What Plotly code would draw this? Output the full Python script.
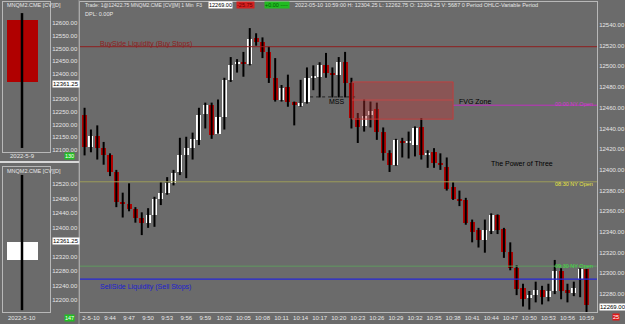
import plotly.graph_objects as go

# ---------------- data ----------------
minutes = ["9:40","9:41","9:42","9:43","9:44","9:45","9:46","9:47","9:48","9:49",
           "9:50","9:51","9:52","9:53","9:54","9:55","9:56","9:57","9:58","9:59",
           "10:00","10:01","10:02","10:03","10:04","10:05","10:06","10:07","10:08","10:09",
           "10:10","10:11","10:12","10:13","10:14","10:15","10:16","10:17","10:18","10:19",
           "10:20","10:21","10:22","10:23","10:24","10:25","10:26","10:27","10:28","10:29",
           "10:30","10:31","10:32","10:33","10:34","10:35","10:36","10:37","10:38","10:39",
           "10:40","10:41","10:42","10:43","10:44","10:45","10:46","10:47","10:48","10:49",
           "10:50","10:51","10:52","10:53","10:54","10:55","10:56","10:57","10:58","10:59"]

opens = [12453,12422,12433,12421,12414,12398,12369,12367,12362,12354,
         12349,12356,12372,12378,12387,12398,12414,12421,12429,12454,
         12463,12435,12451,12487,12502,12504,12502,12527,12524,12514,
         12489,12468,12480,12466,12462,12466,12489,12490,12501,12494,
         12492,12504,12484,12450,12442,12453,12459,12437,12416,12405,
         12428,12426,12424,12441,12414,12417,12407,12403,12383,12372,
         12371,12350,12342,12332,12341,12356,12343,12321,12305,12286,
         12276,12279,12284,12277,12283,12302,12284,12281,12295,12304.25]
highs = [12460,12439,12443,12427,12416,12400,12378,12387,12364,12359,
         12363,12374,12388,12393,12400,12431,12432,12436,12460,12465,
         12465,12468,12489,12509,12507,12514,12537,12532,12528,12519,
         12508,12482,12492,12466,12487,12499,12501,12504,12513,12499,
         12509,12514,12489,12455,12468,12466,12465,12441,12419,12430,
         12431,12437,12442,12450,12419,12421,12416,12412,12388,12380,
         12373,12352,12344,12352,12358,12357,12344,12330,12308,12290,
         12283,12292,12288,12290,12313,12305,12290,12292,12305,12304.25]
lows = [12414,12417,12410,12405,12394,12364,12354,12360,12349,12337,
        12344,12345,12366,12376,12385,12395,12392,12410,12424,12440,
        12430,12435,12439,12485,12494,12490,12501,12520,12508,12484,
        12466,12466,12461,12443,12461,12464,12477,12470,12489,12470,
        12470,12470,12440,12426,12437,12441,12429,12409,12398,12404,
        12412,12411,12413,12410,12402,12402,12400,12380,12371,12365,
        12347,12330,12325,12320,12338,12338,12315,12303,12279,12268,
        12265,12272,12270,12273,12280,12275,12272,12278,12277,12262.75]
closes = [12422,12433,12421,12414,12398,12369,12367,12362,12354,12349,
          12356,12372,12378,12387,12397,12414,12421,12430,12453,12463,
          12434,12451,12487,12501,12504,12502,12526,12524,12514,12489,
          12468,12479,12466,12463,12465,12489,12490,12501,12494,12492,
          12504,12484,12450,12441,12452,12457,12437,12416,12405,12429,
          12426,12427,12440,12414,12416,12407,12405,12382,12372,12370,
          12349,12340,12332,12342,12356,12342,12321,12305,12285,12275,
          12279,12284,12277,12283,12302,12283,12281,12286,12304,12269]

tick_labels = ["2-5-10","9:44","9:47","9:50","9:53","9:56","9:59","10:02","10:05","10:08",
               "10:11","10:14","10:17","10:20","10:23","10:26","10:29","10:32","10:35","10:38",
               "10:41","10:44","10:47","10:50","10:53","10:56","10:59"]
tick_minutes = ["9:41","9:44","9:47","9:50","9:53","9:56","9:59","10:02","10:05","10:08",
                "10:11","10:14","10:17","10:20","10:23","10:26","10:29","10:32","10:35","10:38",
                "10:41","10:44","10:47","10:50","10:53","10:56","10:59"]
price_ticks = [12540,12520,12500,12480,12460,12440,12420,12400,12380,12360,12340,12320,12300,12280]

# daily panels
day1 = {"label": "2022-5-9", "o": 12612, "h": 12639, "l": 12108, "c": 12368}
day2 = {"label": "2022-5-10", "o": 12310, "h": 12545, "l": 12172, "c": 12361}
day1_ticks = [12600,12550,12500,12450,12400,12300,12250,12200,12150,12100]
day2_ticks = [12520,12480,12440,12400,12320,12280,12240,12200]

# levels
buyside = 12519
midnight_open = 12462.5
ny0830 = 12388.5
ny0930 = 12307
sellside = 12294.5
mss_level = 12470.5
fvg_top, fvg_mid, fvg_bot = 12485, 12467.5, 12449

# ---------------- build ----------------
W, H = 625, 324
BG = "#6b6b6b"
RED = "#b00000"
FRAME = "#b8b8b8"
TXT = "#e6e6e6"
FONT = "Liberation Sans"

def px(x): return x / W
def py(y): return 1 - y / H

idx = {m: i for i, m in enumerate(minutes)}
xs = [idx[m] for m in minutes]
tickvals = [idx[m] for m in tick_minutes]

fig = go.Figure()

# wicks
wx, wy = [], []
for i, hi, lo in zip(xs, highs, lows):
    wx += [i, i, None]
    wy += [lo, hi, None]
fig.add_trace(go.Scatter(x=wx, y=wy, mode="lines", line=dict(color="black", width=2),
                         hoverinfo="skip", showlegend=False, xaxis="x", yaxis="y"))
# bodies
bx, bbase, bh, bcol = [], [], [], []
for i, o, c in zip(xs, opens, closes):
    bx.append(i)
    bbase.append(min(o, c))
    bh.append(max(abs(c - o), 1.6))
    bcol.append("white" if c > o else RED)
fig.add_trace(go.Bar(x=bx, y=bh, base=bbase, width=0.8, marker=dict(color=bcol, line=dict(width=0)),
                     showlegend=False, xaxis="x", yaxis="y"))

# daily panels
for d, xa, ya, col in [(day1, "x2", "y2", RED), (day2, "x3", "y3", "white")]:
    fig.add_trace(go.Scatter(x=[0, 0], y=[d["l"], d["h"]], mode="lines",
                             line=dict(color="black", width=2.5), showlegend=False,
                             xaxis=xa, yaxis=ya, hoverinfo="skip"))
    fig.add_trace(go.Bar(x=[0], y=[abs(d["c"] - d["o"])], base=[min(d["o"], d["c"])], width=1.0,
                         marker=dict(color=col, line=dict(width=0)), showlegend=False,
                         xaxis=xa, yaxis=ya))

axis_common = dict(showgrid=False, zeroline=False, showline=True, linecolor=FRAME, linewidth=1,
                   mirror=True, fixedrange=True)
fig.update_layout(
    width=W, height=H, margin=dict(l=0, r=0, t=0, b=0),
    paper_bgcolor=BG, plot_bgcolor=BG, barmode="overlay", bargap=0,
    font=dict(family=FONT, color=TXT, size=6),
    xaxis=dict(domain=[px(80), px(597)], range=[-0.72, 80.65], tickvals=tickvals, ticktext=tick_labels,
               tickfont=dict(size=6, color=TXT), ticks="", anchor="y", **axis_common),
    yaxis=dict(domain=[py(312), py(2)], range=[12262.7, 12562.2], side="right", tickvals=price_ticks,
               tickformat=".2f", tickfont=dict(size=6, color=TXT), ticks="", anchor="x", **axis_common),
    xaxis2=dict(domain=[px(3), px(50)], range=[-0.613, 0.903], showticklabels=False, ticks="",
                anchor="y2", **axis_common),
    yaxis2=dict(domain=[py(152), py(2)], range=[12092.1, 12682.7], side="right", tickvals=day1_ticks,
                tickformat=".2f", tickfont=dict(size=6, color=TXT), ticks="", anchor="x2", **axis_common),
    xaxis3=dict(domain=[px(3), px(50)], range=[-0.613, 0.903], showticklabels=False, ticks="",
                anchor="y3", **axis_common),
    yaxis3=dict(domain=[py(312), py(167)], range=[12166.9, 12566.9], side="right", tickvals=day2_ticks,
                tickformat=".2f", tickfont=dict(size=6, color=TXT), ticks="", anchor="x3", **axis_common),
)

shapes = []
def hline(y, color, width=1, x0=-0.72, x1=80.65, dash="solid"):
    shapes.append(dict(type="line", xref="x", yref="y", x0=x0, x1=x1, y0=y, y1=y,
                       line=dict(color=color, width=width, dash=dash)))
hline(buyside, "#8e1e1e", 1)
hline(ny0830, "#9c9c5a", 1)
hline(ny0930, "#5f9a5f", 1)
hline(sellside, "#2626d6", 1.2)
hline(midnight_open, "#c030c0", 1, x0=58.0)
hline(mss_level, "#202020", 1, x0=35.5, x1=42.9, dash="dot")
shapes.append(dict(type="rect", xref="x", yref="y", x0=42.1, x1=58.0, y0=fvg_bot, y1=fvg_top,
                   fillcolor="rgba(190,50,50,0.38)", line=dict(color="rgba(200,60,60,0.9)", width=1),
                   layer="above"))
shapes.append(dict(type="line", xref="x", yref="y", x0=42.1, x1=58.0, y0=fvg_mid, y1=fvg_mid,
                   line=dict(color="rgba(200,70,70,0.9)", width=1)))
shapes.append(dict(type="line", xref="paper", yref="paper", x0=px(79), x1=px(79), y0=0, y1=1,
                   line=dict(color="#9a9a9a", width=1)))
shapes.append(dict(type="line", xref="paper", yref="paper", x0=0, x1=px(79), y0=py(162), y1=py(162),
                   line=dict(color="#d8d8d8", width=2)))
fig.update_layout(shapes=shapes)

ann = []
def text(x, y, s, color=TXT, size=6, xanchor="left", bg=None, xref="paper", yref="paper"):
    if xref == "paper":
        x = px(x)
    if yref == "paper":
        y = py(y)
    d = dict(x=x, y=y, xref=xref, yref=yref, text=s, showarrow=False,
             xanchor=xanchor, yanchor="middle", font=dict(size=size, color=color, family=FONT))
    if bg:
        d.update(bgcolor=bg, borderpad=0)
    ann.append(d)

# header
text(83, 5, "Trade: 1@12422.75 MNQM2.CME [CV][M] 1 Min  F3", size=5)
text(208, 5, "12269.00", color="black", size=5.5, bg="white")
text(236, 5, "-25.75 ", color="#700000", size=5.5, bg="#d42020")
text(264, 5, "+0.00 ---- ", color="#006000", size=5.5, bg="#22bb22")
text(293, 5, "2022-05-10 10:59:00 H: 12304.25 L: 12262.75 O: 12304.25 V: 5687 0 Period OHLC-Variable Period", size=5.5)
text(83, 14, "DPL: 0.00P", size=5.5)

# level labels
text(98, 44, "BuySide Liquidity (Buy Stops)", color="#8e1e1e", size=7)
text(98, 287, "SellSide Liquidity (Sell Stops)", color="#2020d0", size=7)
text(595, 104, "00:00 NY Open", color="#d040d0", size=5.5, xanchor="right")
text(595, 184, "08:30 NY Open", color="#e8e840", size=5.5, xanchor="right")
text(595, 266, "09:30 NY Open", color="#40e040", size=5.5, xanchor="right")
text(327, 101, "MSS", color="black", size=7)
text(457, 101, "FVG Zone", color="black", size=7)
text(489, 163, "The Power of Three", color="black", size=7)

# price boxes
text(599, 307, "12269.00", color="black", size=6, bg="white")
text(612, 317, "25", color="white", size=5.5, bg="#e01818")
text(52, 84, "12361.25", color="black", size=6, bg="white")
text(52, 241, "12361.25", color="black", size=6, bg="white")

# panel titles / dates
text(5, 5, "MNQM2.CME [CV][D]", size=5.5)
text(5, 171, "MNQM2.CME [CV][D]", size=5.5)
text(22, 156, day1["label"], size=6, xanchor="center")
text(22, 318, day2["label"], size=6, xanchor="center")
text(64, 156, "130", color="white", size=5.5, bg="#22c022")
text(64, 318, "147", color="white", size=5.5, bg="#22c022")

fig.update_layout(annotations=ann)
fig.write_html("out.html")
